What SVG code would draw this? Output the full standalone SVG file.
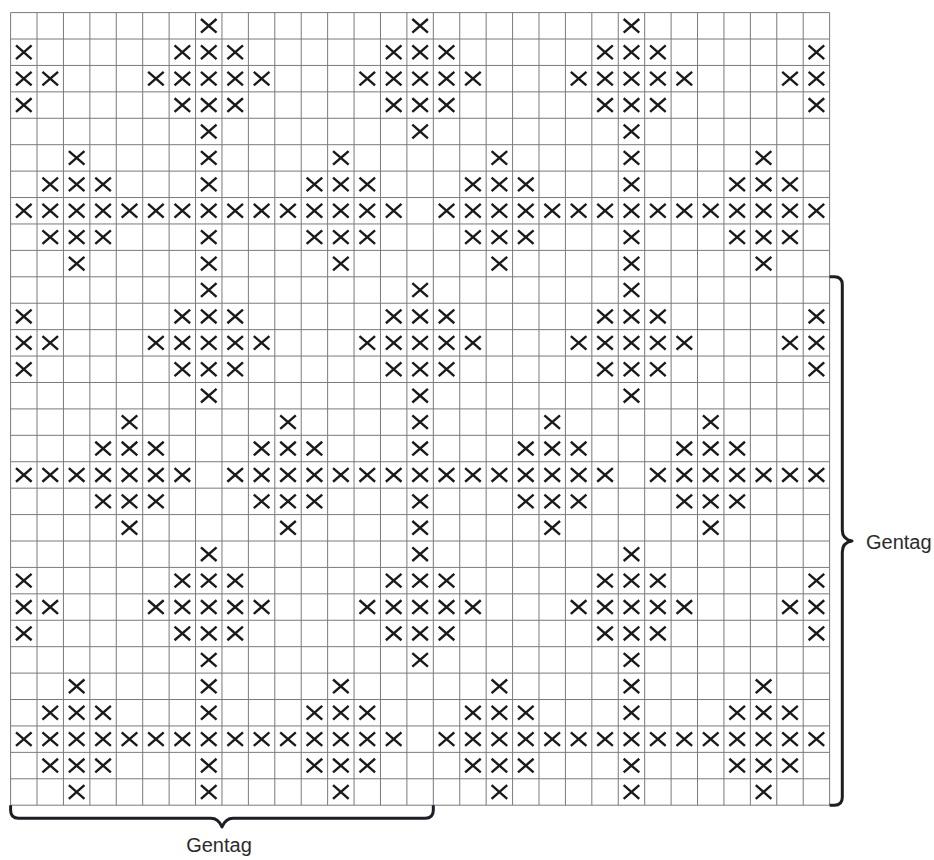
<svg xmlns="http://www.w3.org/2000/svg" xmlns:xlink="http://www.w3.org/1999/xlink" width="934" height="860" viewBox="0 0 934 860">
<style>
.grid{stroke:#7a7a7a;stroke-width:1;fill:none}
.mk{stroke:#1a1a1a;stroke-width:2.4;fill:none;stroke-linecap:butt}
.br{stroke:#1c1e24;stroke-width:3;fill:none;stroke-linejoin:round}
.lbl{font-family:"Liberation Sans",Arial,sans-serif;font-size:20px;fill:#2b2b2b}
</style>
<defs>
<path id="x" class="mk" d="M-7.8,-6.8 L7.8,6.8 M7.8,-6.8 L-7.8,6.8"/>
<g id="rA"><use href="#x" x="208.75"/><use href="#x" x="420.11"/><use href="#x" x="631.47"/></g>
<g id="rB"><use href="#x" x="23.81"/><use href="#x" x="182.33"/><use href="#x" x="208.75"/><use href="#x" x="235.17"/><use href="#x" x="393.69"/><use href="#x" x="420.11"/><use href="#x" x="446.53"/><use href="#x" x="605.05"/><use href="#x" x="631.47"/><use href="#x" x="657.89"/><use href="#x" x="816.41"/></g>
<g id="rC"><use href="#x" x="23.81"/><use href="#x" x="50.23"/><use href="#x" x="155.91"/><use href="#x" x="182.33"/><use href="#x" x="208.75"/><use href="#x" x="235.17"/><use href="#x" x="261.59"/><use href="#x" x="367.27"/><use href="#x" x="393.69"/><use href="#x" x="420.11"/><use href="#x" x="446.53"/><use href="#x" x="472.95"/><use href="#x" x="578.63"/><use href="#x" x="605.05"/><use href="#x" x="631.47"/><use href="#x" x="657.89"/><use href="#x" x="684.31"/><use href="#x" x="789.99"/><use href="#x" x="816.41"/></g>
<g id="rD"><use href="#x" x="76.65"/><use href="#x" x="208.75"/><use href="#x" x="340.85"/><use href="#x" x="499.37"/><use href="#x" x="631.47"/><use href="#x" x="763.57"/></g>
<g id="rE"><use href="#x" x="50.23"/><use href="#x" x="76.65"/><use href="#x" x="103.07"/><use href="#x" x="208.75"/><use href="#x" x="314.43"/><use href="#x" x="340.85"/><use href="#x" x="367.27"/><use href="#x" x="472.95"/><use href="#x" x="499.37"/><use href="#x" x="525.79"/><use href="#x" x="631.47"/><use href="#x" x="737.15"/><use href="#x" x="763.57"/><use href="#x" x="789.99"/></g>
<g id="rF"><use href="#x" x="23.81"/><use href="#x" x="50.23"/><use href="#x" x="76.65"/><use href="#x" x="103.07"/><use href="#x" x="129.49"/><use href="#x" x="155.91"/><use href="#x" x="182.33"/><use href="#x" x="208.75"/><use href="#x" x="235.17"/><use href="#x" x="261.59"/><use href="#x" x="288.01"/><use href="#x" x="314.43"/><use href="#x" x="340.85"/><use href="#x" x="367.27"/><use href="#x" x="393.69"/><use href="#x" x="446.53"/><use href="#x" x="472.95"/><use href="#x" x="499.37"/><use href="#x" x="525.79"/><use href="#x" x="552.21"/><use href="#x" x="578.63"/><use href="#x" x="605.05"/><use href="#x" x="631.47"/><use href="#x" x="657.89"/><use href="#x" x="684.31"/><use href="#x" x="710.73"/><use href="#x" x="737.15"/><use href="#x" x="763.57"/><use href="#x" x="789.99"/><use href="#x" x="816.41"/></g>
<g id="rG"><use href="#x" x="129.49"/><use href="#x" x="288.01"/><use href="#x" x="420.11"/><use href="#x" x="552.21"/><use href="#x" x="710.73"/></g>
<g id="rH"><use href="#x" x="103.07"/><use href="#x" x="129.49"/><use href="#x" x="155.91"/><use href="#x" x="261.59"/><use href="#x" x="288.01"/><use href="#x" x="314.43"/><use href="#x" x="420.11"/><use href="#x" x="525.79"/><use href="#x" x="552.21"/><use href="#x" x="578.63"/><use href="#x" x="684.31"/><use href="#x" x="710.73"/><use href="#x" x="737.15"/></g>
<g id="rI"><use href="#x" x="23.81"/><use href="#x" x="50.23"/><use href="#x" x="76.65"/><use href="#x" x="103.07"/><use href="#x" x="129.49"/><use href="#x" x="155.91"/><use href="#x" x="182.33"/><use href="#x" x="235.17"/><use href="#x" x="261.59"/><use href="#x" x="288.01"/><use href="#x" x="314.43"/><use href="#x" x="340.85"/><use href="#x" x="367.27"/><use href="#x" x="393.69"/><use href="#x" x="420.11"/><use href="#x" x="446.53"/><use href="#x" x="472.95"/><use href="#x" x="499.37"/><use href="#x" x="525.79"/><use href="#x" x="552.21"/><use href="#x" x="578.63"/><use href="#x" x="605.05"/><use href="#x" x="657.89"/><use href="#x" x="684.31"/><use href="#x" x="710.73"/><use href="#x" x="737.15"/><use href="#x" x="763.57"/><use href="#x" x="789.99"/><use href="#x" x="816.41"/></g>
</defs>
<rect width="934" height="860" fill="#ffffff"/>
<g id="grid" class="grid">
<path d="M10.6,12.6V805.2M37.02,12.6V805.2M63.44,12.6V805.2M89.86,12.6V805.2M116.28,12.6V805.2M142.7,12.6V805.2M169.12,12.6V805.2M195.54,12.6V805.2M221.96,12.6V805.2M248.38,12.6V805.2M274.8,12.6V805.2M301.22,12.6V805.2M327.64,12.6V805.2M354.06,12.6V805.2M380.48,12.6V805.2M406.9,12.6V805.2M433.32,12.6V805.2M459.74,12.6V805.2M486.16,12.6V805.2M512.58,12.6V805.2M539,12.6V805.2M565.42,12.6V805.2M591.84,12.6V805.2M618.26,12.6V805.2M644.68,12.6V805.2M671.1,12.6V805.2M697.52,12.6V805.2M723.94,12.6V805.2M750.36,12.6V805.2M776.78,12.6V805.2M803.2,12.6V805.2M829.62,12.6V805.2"/>
<path d="M10.6,12.6H829.62M10.6,39.02H829.62M10.6,65.44H829.62M10.6,91.86H829.62M10.6,118.28H829.62M10.6,144.7H829.62M10.6,171.12H829.62M10.6,197.54H829.62M10.6,223.96H829.62M10.6,250.38H829.62M10.6,276.8H829.62M10.6,303.22H829.62M10.6,329.64H829.62M10.6,356.06H829.62M10.6,382.48H829.62M10.6,408.9H829.62M10.6,435.32H829.62M10.6,461.74H829.62M10.6,488.16H829.62M10.6,514.58H829.62M10.6,541H829.62M10.6,567.42H829.62M10.6,593.84H829.62M10.6,620.26H829.62M10.6,646.68H829.62M10.6,673.1H829.62M10.6,699.52H829.62M10.6,725.94H829.62M10.6,752.36H829.62M10.6,778.78H829.62M10.6,805.2H829.62"/>
</g>
<g id="marks">
<use href="#rA" y="25.81"/>
<use href="#rB" y="52.23"/>
<use href="#rC" y="78.65"/>
<use href="#rB" y="105.07"/>
<use href="#rA" y="131.49"/>
<use href="#rD" y="157.91"/>
<use href="#rE" y="184.33"/>
<use href="#rF" y="210.75"/>
<use href="#rE" y="237.17"/>
<use href="#rD" y="263.59"/>
<use href="#rA" y="290.01"/>
<use href="#rB" y="316.43"/>
<use href="#rC" y="342.85"/>
<use href="#rB" y="369.27"/>
<use href="#rA" y="395.69"/>
<use href="#rG" y="422.11"/>
<use href="#rH" y="448.53"/>
<use href="#rI" y="474.95"/>
<use href="#rH" y="501.37"/>
<use href="#rG" y="527.79"/>
<use href="#rA" y="554.21"/>
<use href="#rB" y="580.63"/>
<use href="#rC" y="607.05"/>
<use href="#rB" y="633.47"/>
<use href="#rA" y="659.89"/>
<use href="#rD" y="686.31"/>
<use href="#rE" y="712.73"/>
<use href="#rF" y="739.15"/>
<use href="#rE" y="765.57"/>
<use href="#rD" y="791.99"/>
</g>
<g id="brackets">
<path class="br" d="M829.6,276.8H834.3Q842.3,276.8 842.3,284.8V530C842.3,537 846,540 852,541C846,542 842.3,545 842.3,552V797.2Q842.3,805.2 834.3,805.2H829.6"/>
<path class="br" d="M10.6,805.2V810.3Q10.6,818.3 18.6,818.3H211C216.5,818.3 219.5,821 222,827C224.5,821 227.5,818.3 233,818.3H425.3Q433.3,818.3 433.3,810.3V805.2"/>
</g>
<g id="labels">
<text class="lbl" x="866" y="549">Gentag</text>
<text class="lbl" x="219" y="852" text-anchor="middle">Gentag</text>
</g>
</svg>
